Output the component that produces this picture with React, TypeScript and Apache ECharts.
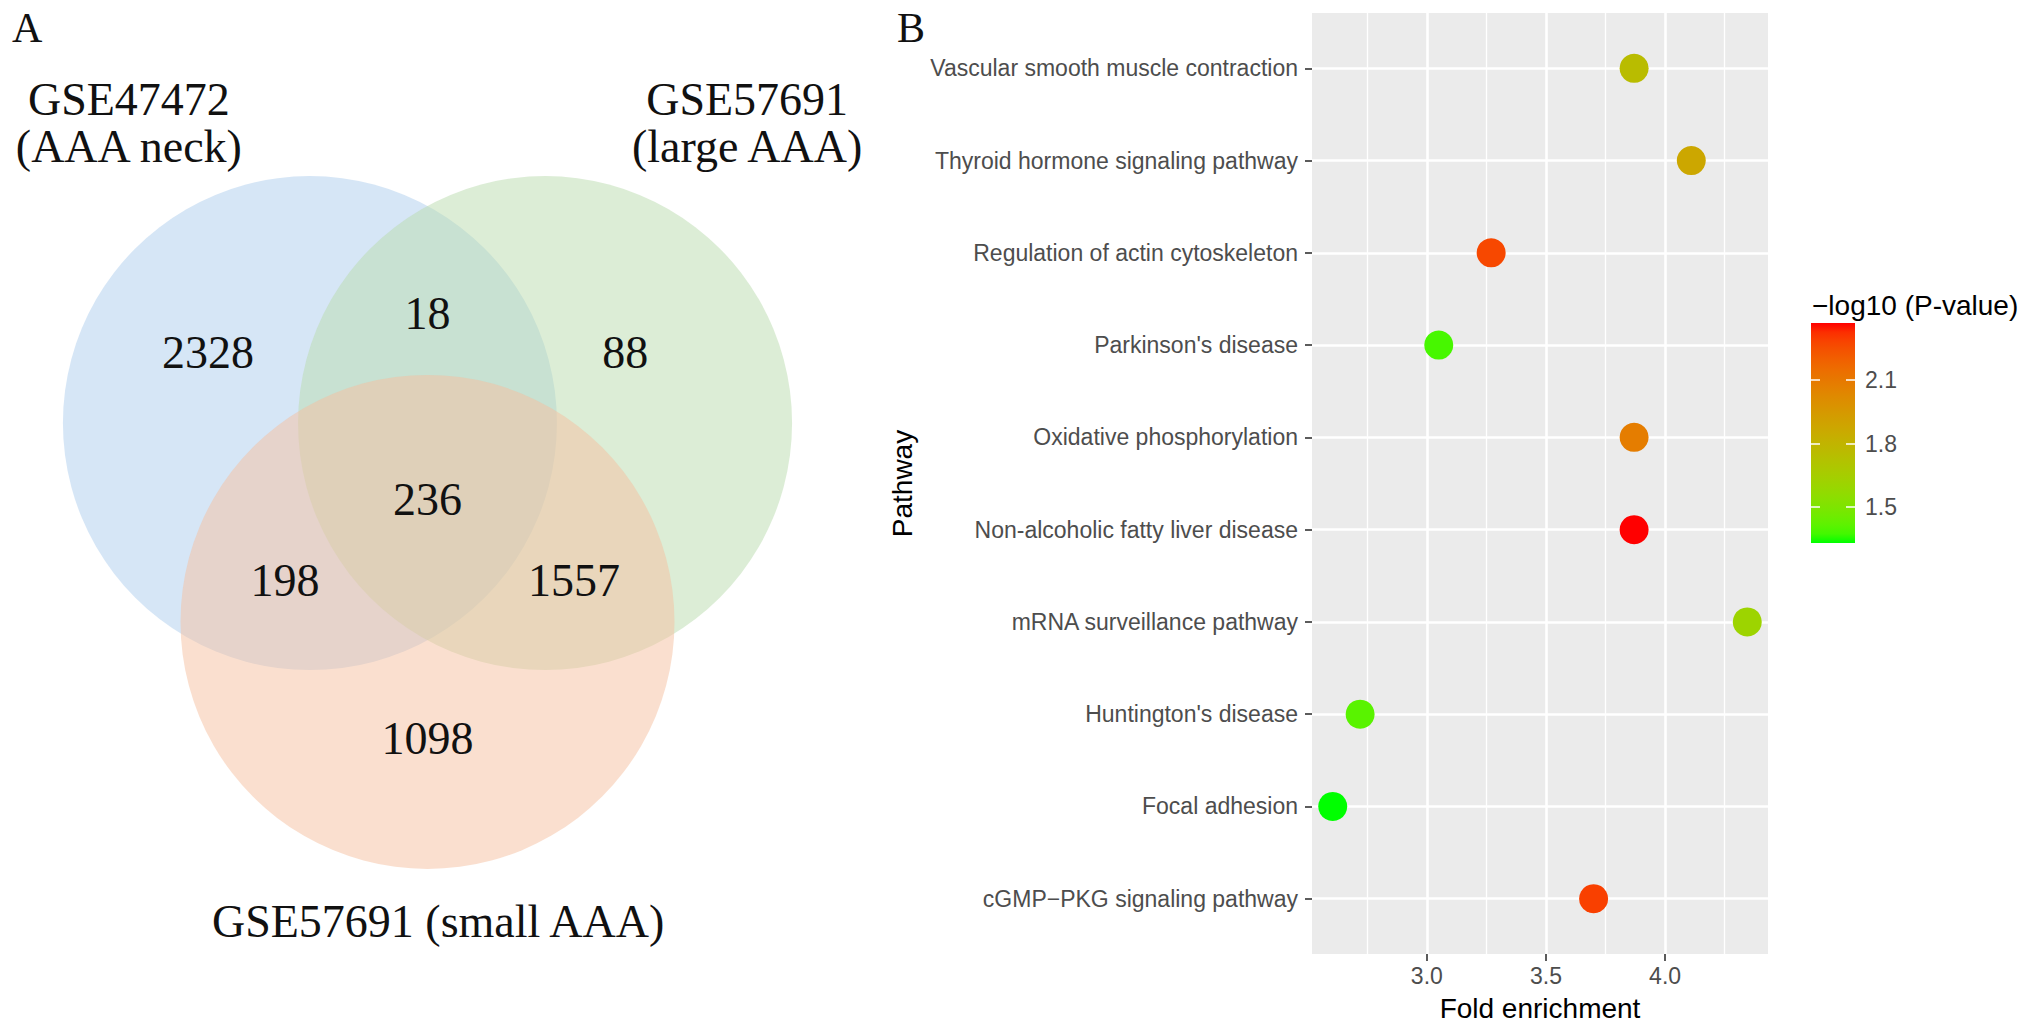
import React, { useEffect, useRef } from 'react';
import * as echarts from 'echarts';

// ---------------- Panel A: Venn diagram data ----------------
const vennSetNames = ['GSE47472\n(AAA neck)', 'GSE57691\n(large AAA)', 'GSE57691 (small AAA)'];
const vennRegionNames = ['neck only', 'neck ∩ large', 'large only', 'all three', 'neck ∩ small', 'large ∩ small', 'small only'];
const vennCounts = [2328, 18, 88, 236, 198, 1557, 1098];

// layout of the Venn (in units of circle radius)
const vennSetX = [-0.476, 0.476, 0];
const vennSetY = [0.268, 0.268, -0.537];
const vennRadius = 1;
const vennTitleX = [-1.209, 1.294, 0.043];
const vennTitleY = [1.481, 1.481, -1.748];
const vennCountX = [-0.889, 0, 0.801, 0, -0.577, 0.593, 0];
const vennCountY = [0.553, 0.713, 0.553, -0.043, -0.371, -0.371, -1.009];
const vennFills = ['rgba(173,205,237,0.5)', 'rgba(185,219,173,0.5)', 'rgba(245,191,159,0.5)'];

// ---------------- Panel B: KEGG dot plot data ----------------
const pathways = [
  'Vascular smooth muscle contraction',
  'Thyroid hormone signaling pathway',
  'Regulation of actin cytoskeleton',
  "Parkinson's disease",
  'Oxidative phosphorylation',
  'Non-alcoholic fatty liver disease',
  'mRNA surveillance pathway',
  "Huntington's disease",
  'Focal adhesion',
  'cGMP\u2212PKG signaling pathway',
];
const foldEnrichment = [3.87, 4.11, 3.27, 3.05, 3.87, 3.87, 4.345, 2.72, 2.605, 3.70];
const negLog10P = [1.75, 1.87, 2.27, 1.38, 2.08, 2.37, 1.61, 1.41, 1.33, 2.29];
const xMajorTicks = [3.0, 3.5, 4.0];
const xMinorTicks = [2.75, 3.25, 3.75, 4.25];
const legendTicks = [1.5, 1.8, 2.1];

// ---------------- colour helpers (ggplot2-like Lab gradient) ----------------
const LOW = [0, 255, 0];
const HIGH = [255, 0, 0];
const Xn = 0.95047, Yn = 1.0, Zn = 1.08883;
const toLin = (c: number) => { c /= 255; return c <= 0.04045 ? c / 12.92 : Math.pow((c + 0.055) / 1.055, 2.4); };
const fromLin = (c: number) => {
  const v = c <= 0.0031308 ? 12.92 * c : 1.055 * Math.pow(Math.max(c, 0), 1 / 2.4) - 0.055;
  return Math.round(Math.max(0, Math.min(1, v)) * 255);
};
const fLab = (t: number) => (t > Math.pow(6 / 29, 3) ? Math.cbrt(t) : t / (3 * Math.pow(6 / 29, 2)) + 4 / 29);
const fInv = (t: number) => (t > 6 / 29 ? t * t * t : 3 * Math.pow(6 / 29, 2) * (t - 4 / 29));
function rgbToLab(rgb: number[]) {
  const r = toLin(rgb[0]), g = toLin(rgb[1]), b = toLin(rgb[2]);
  const X = 0.4124 * r + 0.3576 * g + 0.1805 * b;
  const Y = 0.2126 * r + 0.7152 * g + 0.0722 * b;
  const Z = 0.0193 * r + 0.1192 * g + 0.9505 * b;
  const fx = fLab(X / Xn), fy = fLab(Y / Yn), fz = fLab(Z / Zn);
  return [116 * fy - 16, 500 * (fx - fy), 200 * (fy - fz)];
}
function labToRgb(lab: number[]) {
  const fy = (lab[0] + 16) / 116;
  const fx = fy + lab[1] / 500;
  const fz = fy - lab[2] / 200;
  const X = Xn * fInv(fx), Y = Yn * fInv(fy), Z = Zn * fInv(fz);
  const r = 3.2406 * X - 1.5372 * Y - 0.4986 * Z;
  const g = -0.9689 * X + 1.8758 * Y + 0.0415 * Z;
  const b = 0.0557 * X - 0.204 * Y + 1.057 * Z;
  return `rgb(${fromLin(r)},${fromLin(g)},${fromLin(b)})`;
}
const labLow = rgbToLab(LOW);
const labHigh = rgbToLab(HIGH);
const gradColor = (t: number) => labToRgb(labLow.map((v, i) => v + (labHigh[i] - v) * t));
const N_STOPS = 24;
const rampColors = Array.from({ length: N_STOPS + 1 }, (_, i) => gradColor(i / N_STOPS));

const SANS = 'Liberation Sans, Arial, Helvetica, sans-serif';
const SERIF = 'Liberation Serif, Times New Roman, serif';

export default function App() {
  const ref = useRef<HTMLDivElement>(null);

  useEffect(() => {
    if (!ref.current) return;
    const chart = echarts.init(ref.current, null, { renderer: 'svg' });

    const feMin = Math.min(...foldEnrichment);
    const feMax = Math.max(...foldEnrichment);
    const feSpan = feMax - feMin;
    const xMin = feMin - 0.05 * feSpan;
    const xMax = feMax + 0.05 * feSpan;
    const pMin = Math.min(...negLog10P);
    const pMax = Math.max(...negLog10P);
    const yCats = pathways.map((_, i) => i + 1);

    const barGradient = new echarts.graphic.LinearGradient(
      0, 0, 0, 1,
      rampColors.map((_, i) => ({ offset: i / N_STOPS, color: gradColor(1 - i / N_STOPS) }))
    );

    const tickLabelStyle = { color: '#4D4D4D', fontSize: 23, fontFamily: SANS };

    const option: any = {
      animation: false,
      backgroundColor: '#ffffff',
      grid: [
        { left: 7.6, top: 20, width: 839.8, height: 938.6, show: false },
        { left: 1312, top: 13, width: 456, height: 941, show: true, backgroundColor: '#EBEBEB', borderWidth: 0 },
        { left: 1811, top: 323, width: 44, height: 220, show: true, backgroundColor: barGradient, borderWidth: 0 },
      ],
      xAxis: [
        { gridIndex: 0, type: 'value', min: -1.7, max: 1.7, show: false },
        {
          gridIndex: 1, type: 'value', min: xMin, max: xMax,
          axisLine: { show: false },
          axisTick: { show: true, length: 7, lineStyle: { color: '#333333', width: 1.6 }, customValues: xMajorTicks },
          axisLabel: { show: true, margin: 10, customValues: xMajorTicks, formatter: (v: number) => v.toFixed(1), ...tickLabelStyle },
          splitLine: { show: true, lineStyle: { color: '#FFFFFF', width: 2.6 } },
          name: 'Fold enrichment', nameLocation: 'middle', nameGap: 40,
          nameTextStyle: { color: '#000000', fontSize: 28, fontFamily: SANS },
        },
        {
          gridIndex: 1, type: 'value', min: xMin, max: xMax,
          axisLine: { show: false },
          axisTick: { show: false, customValues: xMinorTicks },
          axisLabel: { show: false, customValues: xMinorTicks },
          splitLine: { show: true, lineStyle: { color: '#FFFFFF', width: 1.3 } },
        },
        { gridIndex: 2, type: 'value', min: 0, max: 1, show: false },
      ],
      yAxis: [
        { gridIndex: 0, type: 'value', min: -1.9, max: 1.9, show: false },
        {
          gridIndex: 1, type: 'value', inverse: true, min: 0.4, max: 10.6,
          axisLine: { show: false },
          axisTick: { show: true, length: 7, lineStyle: { color: '#333333', width: 1.6 }, customValues: yCats },
          axisLabel: {
            show: true, margin: 14, customValues: yCats,
            formatter: (v: number) => pathways[Math.round(v) - 1] ?? '',
            ...tickLabelStyle,
          },
          splitLine: { show: true, lineStyle: { color: '#FFFFFF', width: 2.6 } },
          name: 'Pathway', nameLocation: 'middle', nameGap: 396,
          nameTextStyle: { color: '#000000', fontSize: 28, fontFamily: SANS },
        },
        {
          gridIndex: 2, type: 'value', min: pMin, max: pMax, position: 'left',
          axisLine: { show: false },
          axisTick: { show: true, inside: true, length: 9, lineStyle: { color: '#FFFFFF', width: 1.5 }, customValues: legendTicks },
          axisLabel: { show: false, customValues: legendTicks },
          splitLine: { show: false },
        },
        {
          gridIndex: 2, type: 'value', min: pMin, max: pMax, position: 'right',
          axisLine: { show: false },
          axisTick: { show: true, inside: true, length: 9, lineStyle: { color: '#FFFFFF', width: 1.5 }, customValues: legendTicks },
          axisLabel: { show: true, margin: 10, customValues: legendTicks, formatter: (v: number) => v.toFixed(1), ...tickLabelStyle },
          splitLine: { show: false },
        },
      ],
      visualMap: {
        type: 'continuous', show: false, min: pMin, max: pMax, dimension: 2, seriesIndex: 3,
        inRange: { color: rampColors },
      },
      series: [
        {
          type: 'custom', name: 'sets', xAxisIndex: 0, yAxisIndex: 0,
          data: vennSetX.map((x, i) => [x, vennSetY[i], vennRadius]),
          renderItem: (params: any, api: any) => {
            const c = api.coord([api.value(0), api.value(1)]);
            const s = api.size([api.value(2), api.value(2)]);
            return {
              type: 'circle',
              shape: { cx: c[0], cy: c[1], r: s[0] },
              style: { fill: vennFills[params.dataIndex], stroke: 'none' },
            };
          },
          silent: true,
        },
        {
          type: 'custom', name: 'counts', xAxisIndex: 0, yAxisIndex: 0,
          data: vennCounts.map((v, i) => ({ name: vennRegionNames[i], value: [vennCountX[i], vennCountY[i], v] })),
          renderItem: (params: any, api: any) => {
            const c = api.coord([api.value(0), api.value(1)]);
            return {
              type: 'text', x: c[0], y: c[1],
              style: {
                text: String(api.value(2)), fill: '#111111', fontSize: 46, fontFamily: SERIF,
                align: 'center', verticalAlign: 'middle', textAlign: 'center', textVerticalAlign: 'middle',
              },
            };
          },
          silent: true,
        },
        {
          type: 'custom', name: 'titles', xAxisIndex: 0, yAxisIndex: 0,
          data: vennSetNames.map((n, i) => ({ name: n, value: [vennTitleX[i], vennTitleY[i]] })),
          renderItem: (params: any, api: any) => {
            const c = api.coord([api.value(0), api.value(1)]);
            return {
              type: 'text', x: c[0], y: c[1],
              style: {
                text: vennSetNames[params.dataIndex], fill: '#111111', fontSize: 46, fontFamily: SERIF, lineHeight: 47,
                align: 'center', verticalAlign: 'middle', textAlign: 'center', textVerticalAlign: 'middle',
              },
            };
          },
          silent: true,
        },
        {
          type: 'scatter', name: 'pathways', xAxisIndex: 1, yAxisIndex: 1,
          symbol: 'circle', symbolSize: 29,
          data: pathways.map((p, i) => ({ name: p, value: [foldEnrichment[i], i + 1, negLog10P[i]] })),
          itemStyle: { opacity: 1 },
        },
      ],
      graphic: [
        { type: 'text', x: 12, y: 28, style: { text: 'A', fontSize: 42, fontFamily: SERIF, fill: '#111111', verticalAlign: 'middle', textVerticalAlign: 'middle' } },
        { type: 'text', x: 897, y: 28, style: { text: 'B', fontSize: 42, fontFamily: SERIF, fill: '#111111', verticalAlign: 'middle', textVerticalAlign: 'middle' } },
        { type: 'text', x: 1812, y: 305, style: { text: '\u2212log10 (P-value)', fontSize: 28, fontFamily: SANS, fill: '#000000', verticalAlign: 'middle', textVerticalAlign: 'middle' } },
      ],
    };

    chart.setOption(option);
    return () => chart.dispose();
  }, []);

  return (
    <div
      ref={ref}
      style={{ position: 'fixed', left: 0, top: 0, width: 2031, height: 1031, background: '#ffffff' }}
    />
  );
}
